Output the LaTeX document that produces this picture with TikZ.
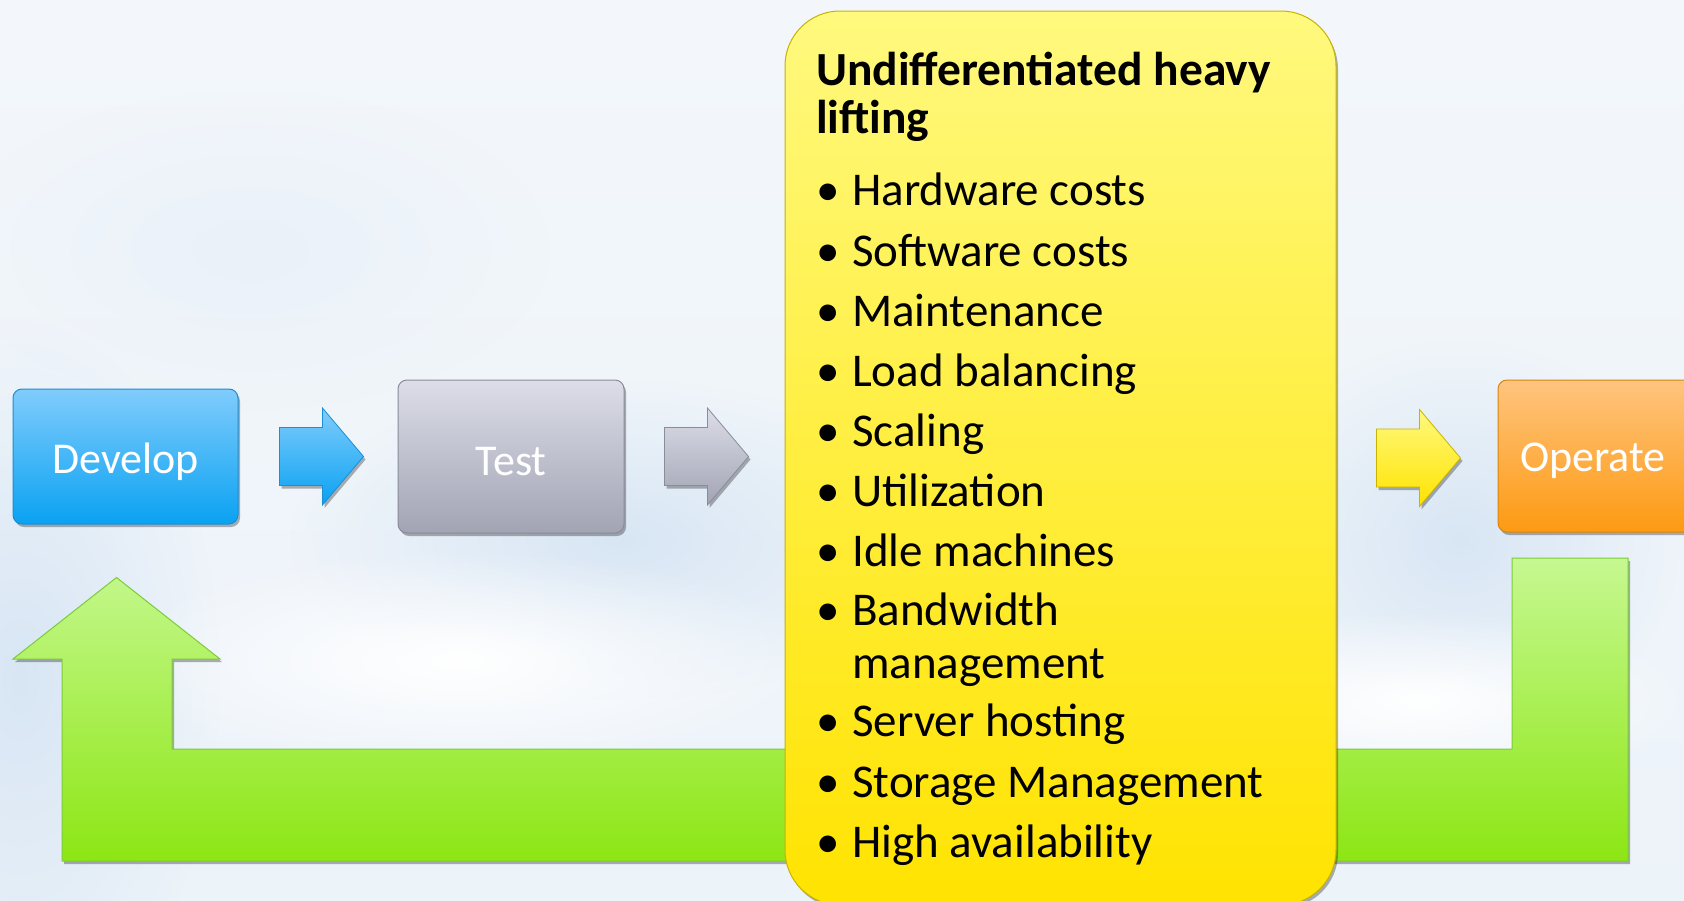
\documentclass[tikz,border=0pt]{standalone}
\usepackage{fontspec}
\setmainfont{Carlito}
\usetikzlibrary{shadows,calc,fadings}
\tikzfading[name=softblob,inner color=transparent!0,outer color=transparent!100]
\definecolor{bgA}{HTML}{F3F7FB}
\definecolor{bgB}{HTML}{D8E6F4}
\definecolor{devT}{HTML}{80CCFC}
\definecolor{devB}{HTML}{0AA2F2}
\definecolor{devE}{HTML}{1A8ED6}
\definecolor{tstT}{HTML}{DCDDE8}
\definecolor{tstB}{HTML}{A2A4B4}
\definecolor{tstE}{HTML}{8A8C9A}
\definecolor{opT}{HTML}{FFC47E}
\definecolor{opB}{HTML}{FD9A12}
\definecolor{opE}{HTML}{D8860F}
\definecolor{yT}{HTML}{FFF97E}
\definecolor{yB}{HTML}{FFE300}
\definecolor{yE}{HTML}{C9B300}
\definecolor{gT}{HTML}{C6F891}
\definecolor{gB}{HTML}{8DE614}
\definecolor{gE}{HTML}{7CCB3A}
\newcommand{\lowtext}[1]{\raisebox{-5pt}[\height][\depth]{#1}}
\tikzset{
  shadowed/.style={drop shadow={shadow xshift=2pt,shadow yshift=-3pt,opacity=0.3,fill=black}},
  stagebox/.style={shadowed,draw,line width=1pt,rounded corners=9pt,minimum height=#1,
    text=white,font=\fontsize{44}{50}\selectfont,inner sep=0pt},
  listtext/.style={anchor=base west,inner sep=0pt,font=\fontsize{47}{56}\selectfont},
  titletext/.style={anchor=base west,inner sep=0pt,font=\fontsize{47.5}{56}\selectfont\bfseries},
  cloud/.style={fill=#1,path fading=softblob,fit fading=true},
  pics/barrow/.style={code={
    \path[shadowed,draw=#1E,line width=0.8pt,top color=#1T,bottom color=#1B]
      (0,29) -- (43,29) -- (43,48.5) -- (84,0) -- (43,-48.5) -- (43,-29) -- (0,-29) -- cycle;}}
}
\begin{document}
\begin{tikzpicture}[x=1pt,y=1pt]
\useasboundingbox (0,0) rectangle (1684,-900);
\clip (0,0) rectangle (1684,-900);
% sky background
\fill[top color=bgA,bottom color=bgA!75!bgB] (0,0) rectangle (1684,-900);
\fill[cloud=bgB] (20,-680) ellipse [x radius=200,y radius=360];
\fill[cloud=bgB] (620,-540) ellipse [x radius=330,y radius=160];
\fill[cloud=bgB] (1460,-540) ellipse [x radius=220,y radius=200];
\fill[cloud=bgB!35!bgA] (250,-250) ellipse [x radius=300,y radius=160];
\fill[cloud=white] (460,-660) ellipse [x radius=360,y radius=110];
\fill[cloud=white] (1420,-700) ellipse [x radius=280,y radius=90];

% nodes
\node[stagebox=135pt,minimum width=225pt,draw=devE,top color=devT,bottom color=devB]
  (dev) at (125.5,-456.5) {\lowtext{Develop}};
\node[stagebox=153pt,minimum width=226pt,draw=tstE,top color=tstT,bottom color=tstB]
  (tst) at (511,-456.5) {\lowtext{Test}};
\node[stagebox=152pt,minimum width=200pt,draw=opE,top color=opT,bottom color=opB]
  (ops) at (1598,-456) {\hspace*{-10pt}\lowtext{Operate}};

% green return arrow (Operate -> Develop)
\coordinate (gtip) at ($(dev.south)+(-9,-53)$);
\path[shadowed,draw=gE,line width=1pt,top color=gT,bottom color=gB]
  (gtip) -- (220,-659) -- (172,-659) -- (172,-749) -- (1512,-749) -- (1512,-558)
  -- (1628,-558) -- (1628,-861) -- (62,-861) -- (62,-659) -- (13,-659) -- cycle;

% big yellow box
\node[shadowed,draw=yE,line width=1pt,rounded corners=55pt,top color=yT,bottom color=yB,
  minimum width=551pt,minimum height=894pt,inner sep=0pt] (lift) at (1060.5,-458) {};

\node[titletext] (t1) at (816,-85) {Undifferentiated heavy};
\node[titletext] (t2) at (816,-133) {lifting};
\foreach \y/\txt [count=\i] in {205/Hardware costs,266/Software costs,326/Maintenance,
  386/Load balancing,446/Scaling,506/Utilization,566/Idle machines,625/Bandwidth,
  736/Server hosting,797/Storage Management,857/High availability}{
  \node[listtext] (b\i) at (816,-\y) {\textbullet};
  \node[listtext] (l\i) at (852,-\y) {\txt};
}
\node[listtext] (l8b) at (852,-678) {management};

% block arrows between stages
\pic at ($(dev.east)+(41,0)$) {barrow=dev};
\pic at ($(tst.east)+(40,0)$) {barrow=tst};
\pic at ($(lift.east)+(40,0)$) {barrow=y};
\end{tikzpicture}
\end{document}
